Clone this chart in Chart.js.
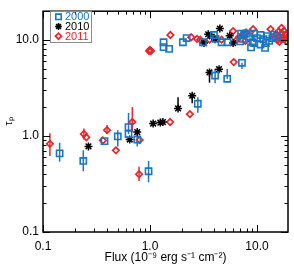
<!DOCTYPE html>
<html>
<head>
<meta charset="utf-8">
<script src="https://cdn.jsdelivr.net/npm/chart.js@4.4.0/dist/chart.umd.min.js"></script>
<style>
  html, body { margin: 0; padding: 0; background: #fff; }
</style>
</head>
<body>
<canvas id="c" width="294" height="265"></canvas>
<script>
// axis ticks
const xTicks = [0.1, 1, 10];
const xTickLabels = ["0.1", "1.0", "10.0"];
const yTicks = [0.1, 1, 10];
const yTickLabels = ["0.1", "1.0", "10.0"];

// 2000 (blue squares)
const x2000 = [0.143, 0.238, 0.376, 0.50, 0.63, 0.63, 0.76, 0.97, 2.80, 4.06, 5.27, 7.24,
  1.34, 1.34, 1.51, 2.03, 2.2, 3.13, 3.96, 4.1, 4.67, 5.3, 6.97, 7.1, 7.36, 7.6, 7.9, 8.5,
  8.8, 9.1, 9.4, 9.4, 10.0, 10.8, 10.8, 11.5, 11.9, 12.1, 12.5, 13.0, 13.9, 14.5, 15.5];
const y2000 = [0.66, 0.55, 0.885, 0.99, 1.05, 1.24, 0.92, 0.43, 2.17, 4.27, 3.95, 5.8,
  9.5, 8.45, 8.1, 9.5, 10.5, 9.5, 11.3, 10.3, 9.5, 9.5, 9.7, 11.7, 10.3, 11.5, 11.7, 10.8,
  8.4, 9.5, 9.3, 11.7, 10.5, 9.0, 11.3, 10.2, 8.3, 9.3, 11.0, 9.8, 10.5, 11.4, 10.9];
const lo2000 = [0.54, 0.43, null, 0.78, null, 1.05, 0.78, 0.33, 1.75, 3.55, 3.95, 5.0];
const hi2000 = [0.85, 0.71, null, 1.15, null, 1.74, 1.10, 0.55, 2.53, 5.0, 5.0, 5.8];

// 2010 (black asterisks)
const x2010 = [0.266, 0.646, 0.76, 1.07, 1.25, 1.32, 1.83, 2.48, 3.6, 4.42,
  3.2, 3.5, 3.78, 4.06, 4.5, 5.56, 5.98];
const y2010 = [0.78, 0.92, 1.1, 1.35, 1.38, 1.40, 1.94, 2.63, 4.6, 4.98,
  9.3, 11.5, 10.9, 10.2, 13.2, 11.1, 9.3];
const lo2010 = [null, null, null, null, null, null, 1.94, 2.2, 3.6];
const hi2010 = [null, null, null, null, null, null, 2.53, 2.63, 4.6];

// 2011 (red diamonds)
const x2011 = [0.116, 0.241, 0.254, 0.363, 0.397, 0.48, 0.684, 0.79, 0.80, 1.54, 2.36, 6.06,
  0.98, 1.0, 1.02, 1.55, 2.43, 2.75, 2.95, 3.6, 4.67, 5.98, 6.5, 6.8, 7.5, 7.8, 7.9, 9.2,
  13.4, 14.5, 15.0, 15.5, 15.8, 16.0, 16.2, 16.5, 17.0, 17.0, 17.5, 17.8, 18.0, 18.5, 18.8, 19.0];
const y2011 = [0.83, 1.05, 0.97, 0.9, 1.15, 0.71, 1.40, 0.40, 0.91, 1.40, 1.69, 5.9,
  7.7, 7.9, 7.7, 11.3, 10.7, 10.3, 10.1, 10.1, 10.1, 12.4, 10.1, 10.7, 11.7, 9.8, 12.0, 13.0,
  13.0, 10.5, 11.5, 10.0, 12.2, 11.0, 9.6, 10.3, 11.8, 13.4, 10.8, 12.5, 10.2, 11.4, 9.8, 10.6];
const lo2011 = [0.62, 0.92, null, null, 1.05, null, 1.1, 0.34];
const hi2011 = [1.07, 1.2, null, null, 1.3, null, 2.0, 0.48];

const BLUE = "#1b76c0";
const RED = "#e8262d";
const BLACK = "#000000";

function pts(xs, ys) {
  return xs.map((x, i) => ({ x: x, y: ys[i] }));
}

// vertical error bars, drawn under the markers
const errorBars = {
  id: "errorBars",
  beforeDatasetsDraw(chart) {
    const ctx = chart.ctx;
    const xs = chart.scales.x, ys = chart.scales.y;
    ctx.save();
    chart.data.datasets.forEach(ds => {
      ctx.strokeStyle = ds.borderColor;
      ctx.lineWidth = 1.5;
      (ds.errLo || []).forEach((lo, j) => {
        const hi = ds.errHi[j];
        if (lo == null || hi == null) return;
        const px = xs.getPixelForValue(ds.data[j].x);
        ctx.beginPath();
        ctx.moveTo(px, ys.getPixelForValue(lo));
        ctx.lineTo(px, ys.getPixelForValue(hi));
        ctx.stroke();
      });
    });
    ctx.restore();
  }
};

// box with inward major/minor ticks on all four sides
function minorVals(min, max) {
  const out = [];
  for (let d = -2; d <= 2; d++) {
    for (let m = 2; m <= 9; m++) {
      const v = m * Math.pow(10, d);
      if (v > min && v < max) out.push(v);
    }
  }
  return out;
}

const axesBox = {
  id: "axesBox",
  afterDraw(chart) {
    const ctx = chart.ctx;
    const a = chart.chartArea;
    const xs = chart.scales.x, ys = chart.scales.y;
    ctx.save();
    ctx.strokeStyle = "#000";
    ctx.lineWidth = 1;
    ctx.beginPath();
    const tick = (v, len, horiz) => {
      if (horiz) {
        const px = Math.round(xs.getPixelForValue(v)) + 0.5;
        ctx.moveTo(px, a.bottom); ctx.lineTo(px, a.bottom - len);
        ctx.moveTo(px, a.top); ctx.lineTo(px, a.top + len);
      } else {
        const py = Math.round(ys.getPixelForValue(v)) + 0.5;
        ctx.moveTo(a.left, py); ctx.lineTo(a.left + len, py);
        ctx.moveTo(a.right, py); ctx.lineTo(a.right - len, py);
      }
    };
    xTicks.forEach(v => tick(v, 7, true));
    minorVals(xs.min, xs.max).forEach(v => tick(v, 3.5, true));
    yTicks.forEach(v => tick(v, 7, false));
    minorVals(ys.min, ys.max).forEach(v => tick(v, 3.5, false));
    ctx.stroke();
    ctx.lineWidth = 1.5;
    ctx.strokeRect(a.left, a.top, a.right - a.left, a.bottom - a.top);
    ctx.restore();
  }
};

// legend box inside the plot, top left
const boxLegend = {
  id: "boxLegend",
  afterDraw(chart) {
    const ctx = chart.ctx;
    ctx.save();
    ctx.strokeStyle = "#8c8c8c";
    ctx.lineWidth = 1;
    ctx.strokeRect(50.5, 11.5, 41, 31);
    ctx.font = "11px 'Liberation Sans', Arial, sans-serif";
    ctx.textBaseline = "middle";
    const rows = [16.8, 26.5, 36.2];
    chart.data.datasets.forEach((ds, i) => {
      ctx.fillStyle = ds.backgroundColor;
      ctx.strokeStyle = ds.borderColor;
      ctx.lineWidth = ds.borderWidth;
      Chart.helpers.drawPoint(ctx, {
        pointStyle: ds.pointStyle, radius: ds.legendRadius,
        borderWidth: ds.borderWidth, rotation: 0
      }, 58.5, rows[i]);
      ctx.fillStyle = ds.borderColor;
      ctx.fillText(ds.label, 65, rows[i] + 0.5);
    });
    ctx.restore();
  }
};

const font12 = { family: "'Liberation Sans', Arial, sans-serif", size: 12 };

new Chart(document.getElementById("c"), {
  type: "scatter",
  data: {
    datasets: [
      {
        label: "2000", data: pts(x2000, y2000), errLo: lo2000, errHi: hi2000,
        pointStyle: "rect", pointRadius: 4.4, legendRadius: 3.8, borderWidth: 1.6,
        borderColor: BLUE, backgroundColor: "rgba(0,0,0,0)"
      },
      {
        label: "2010", data: pts(x2010, y2010), errLo: lo2010, errHi: hi2010,
        pointStyle: "star", pointRadius: 4, legendRadius: 3.4, borderWidth: 1.5,
        borderColor: BLACK, backgroundColor: BLACK
      },
      {
        label: "2011", data: pts(x2011, y2011), errLo: lo2011, errHi: hi2011,
        pointStyle: "rectRot", pointRadius: 3.2, legendRadius: 3, borderWidth: 1.7,
        borderColor: RED, backgroundColor: "rgba(0,0,0,0)"
      }
    ]
  },
  options: {
    responsive: false,
    animation: false,
    devicePixelRatio: 1,
    layout: { padding: { top: 1, right: 1.5, left: 0, bottom: 0 } },
    plugins: { legend: { display: false }, tooltip: { enabled: false } },
    scales: {
      x: {
        type: "logarithmic", min: 0.1, max: 19.5,
        afterBuildTicks: s => { s.ticks = xTicks.map(v => ({ value: v })); },
        afterFit: s => { s.height = 33; },
        grid: { display: false, drawTicks: false },
        border: { display: false },
        ticks: {
          autoSkip: false, maxRotation: 0, padding: 7, color: "#000", font: font12,
          callback: (v, i) => xTickLabels[i]
        },
        title: {
          display: true, text: "Flux (10⁻⁹ erg s⁻¹ cm⁻²)", color: "#000", font: font12,
          padding: { top: 0, bottom: 0 }
        }
      },
      y: {
        type: "logarithmic", min: 0.1, max: 20,
        afterBuildTicks: s => { s.ticks = yTicks.map(v => ({ value: v })); },
        afterFit: s => { s.width = 43; },
        grid: { display: false, drawTicks: false },
        border: { display: false },
        ticks: {
          autoSkip: false, padding: 4, color: "#000", font: font12,
          callback: (v, i) => yTickLabels[i]
        },
        title: {
          display: true, text: "τₚ", color: "#000", font: { family: font12.family, size: 11 },
          padding: { top: 2, bottom: 0 }
        }
      }
    }
  },
  plugins: [errorBars, axesBox, boxLegend]
});
</script>
</body>
</html>
